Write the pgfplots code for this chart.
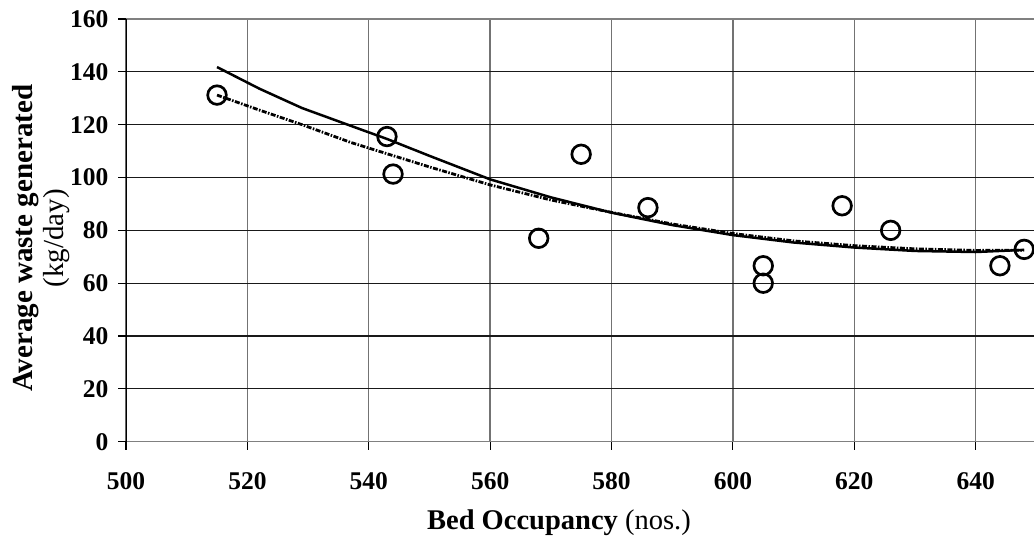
\documentclass[border=0pt]{standalone}
\usepackage{fontspec}
\setmainfont{Liberation Serif}
\usepackage{pgfplots}
\pgfplotsset{compat=1.18}

\begin{document}
\begin{tikzpicture}[x=1pt,y=1pt]
\useasboundingbox (0,0) rectangle (1034,546);
\begin{axis}[
  at={(126pt,104.3pt)}, anchor=south west,
  scale only axis, width=907.9pt, height=422.7pt,
  xmin=500, xmax=649.6, ymin=0, ymax=160,
  xtick={500,520,...,640}, ytick={0,20,...,160},
  grid=major,
  x grid style={black!55, line width=1.3pt},
  y grid style={black!90, line width=1.1pt},
  axis line style={draw=none},
  tick pos=left,
  tick align=outside, major tick length=8pt,
  tick style={black, line width=1.2pt},
  ticklabel style={font=\bfseries\fontsize{25.5}{25.5}\selectfont},
  /pgf/number format/assume math mode=true,
  yticklabel style={xshift=-6pt},
  xticklabel style={yshift=-19pt},
  xlabel={\textbf{Bed Occupancy} (nos.)},
  xlabel style={font=\fontsize{28.5}{31}\selectfont,
    at={([xshift=-21pt,yshift=-88.3pt]rel axis cs:0.5,0)}, anchor=base},
  ylabel={\textbf{Average waste generated}\\(kg/day)},
  ylabel style={font=\fontsize{29}{31}\selectfont, align=center,
    at={([xshift=-85pt,yshift=-8pt]rel axis cs:0,0.5)}, anchor=center},
]
% frame of the plot area
\draw[black!50, line width=2pt] (rel axis cs:0,1) -- (rel axis cs:1,1);
\draw[black!50, line width=2.2pt] (rel axis cs:0,0) -- (rel axis cs:1,0);
\draw[black, line width=1.6pt] (rel axis cs:0,0) -- (rel axis cs:0,1);

% dash-dot trend
\addplot[black, line width=2.8pt, dash pattern=on 5pt off 1.5pt on 1.5pt off 1.5pt] coordinates {
  (515,131.2) (522,125.5) (529,120.0) (537,113.3) (543,109.0) (550,104.0)
  (560,97.2) (570,91.5) (580,86.8) (590,82.4) (600,78.8) (610,76.0)
  (620,74.2) (630,73.0) (640,72.4) (648,72.5)
};
% solid trend
\addplot[black, line width=2.5pt] coordinates {
  (515,141.8) (522,133.6) (529,126.3) (537,119.6) (543,114.6) (550,108.2)
  (560,99.3) (570,92.5) (580,86.7) (590,82.0) (600,78.2) (610,75.4)
  (620,73.5) (630,72.2) (640,71.8) (648,72.6)
};
% observations
\addplot[only marks, mark=o, mark size=9.3pt, mark options={line width=2.7pt, black}] coordinates {
  (515,131.2) (543,115.5) (544,101.3) (568,77.0) (575,108.8) (586,88.6)
  (605,66.6) (605,60.0) (618,89.3) (626,80.0) (644,66.6) (648,72.8)
};
\end{axis}
\end{tikzpicture}
\end{document}
